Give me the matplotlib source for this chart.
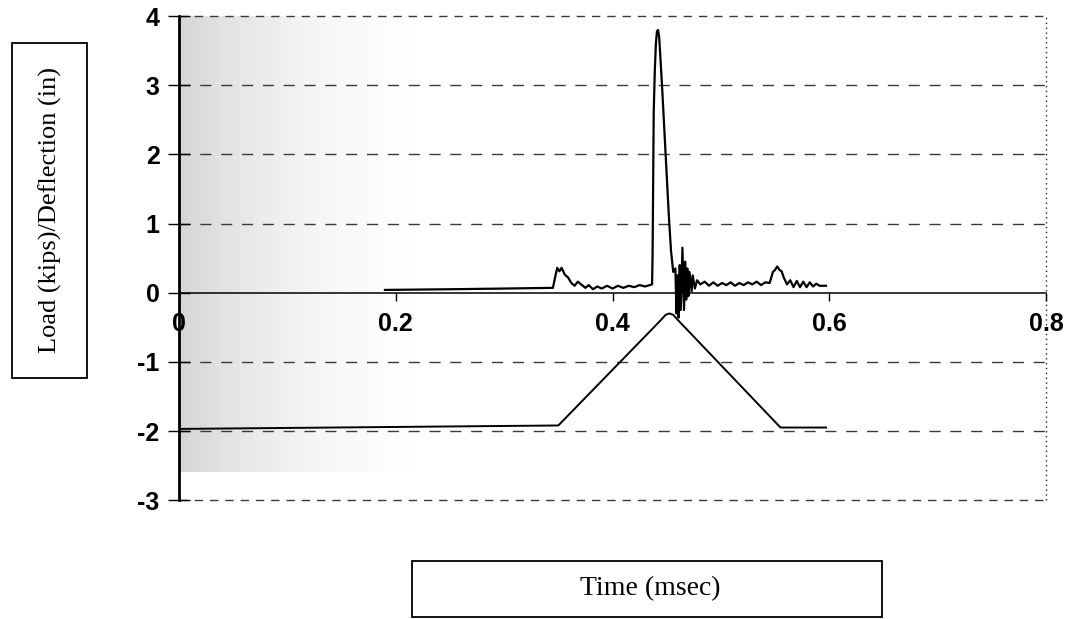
import numpy as np
import matplotlib
matplotlib.use("Agg")
import matplotlib.pyplot as plt
from matplotlib.patches import Rectangle

plt.rcParams["axes.unicode_minus"] = False

# data
load_t = [0.190, 0.250, 0.300, 0.345, 0.347, 0.349, 0.351, 0.353, 0.356, 0.359,
          0.362, 0.365, 0.368, 0.371, 0.375, 0.378, 0.382, 0.386, 0.390, 0.395,
          0.400, 0.405, 0.410, 0.415, 0.420, 0.425, 0.430, 0.4365, 0.437, 0.4375,
          0.438, 0.439, 0.440, 0.441, 0.442, 0.443, 0.444, 0.446, 0.448, 0.450,
          0.452, 0.454, 0.456, 0.458, 0.459, 0.460, 0.461, 0.462, 0.463, 0.4645,
          0.466, 0.467, 0.468, 0.469, 0.470, 0.471, 0.473, 0.474, 0.476, 0.478,
          0.481, 0.485, 0.489, 0.493, 0.497, 0.501, 0.505, 0.509, 0.513, 0.517,
          0.521, 0.525, 0.529, 0.533, 0.537, 0.541, 0.545, 0.548, 0.550, 0.552,
          0.554, 0.556, 0.558, 0.561, 0.564, 0.567, 0.570, 0.573, 0.576, 0.579,
          0.582, 0.585, 0.588, 0.591, 0.594, 0.597]
load_v = [0.04, 0.05, 0.06, 0.07, 0.22, 0.36, 0.31, 0.36, 0.26, 0.22,
          0.14, 0.10, 0.16, 0.12, 0.07, 0.11, 0.05, 0.09, 0.06, 0.10,
          0.06, 0.10, 0.07, 0.10, 0.08, 0.11, 0.09, 0.12, 0.6, 1.6,
          2.6, 3.2, 3.6, 3.78, 3.8, 3.7, 3.45, 2.9, 2.3, 1.7,
          1.1, 0.6, 0.3, 0.35, -0.30, 0.25, -0.36, 0.40, -0.25, 0.65,
          -0.25, 0.45, -0.10, 0.35, -0.05, 0.30, 0.02, 0.25, 0.06, 0.18,
          0.12, 0.16, 0.10, 0.15, 0.10, 0.14, 0.11, 0.15, 0.10, 0.14,
          0.11, 0.15, 0.12, 0.16, 0.11, 0.15, 0.14, 0.30, 0.33, 0.38,
          0.33, 0.31, 0.22, 0.12, 0.18, 0.08, 0.17, 0.08, 0.16, 0.08,
          0.15, 0.09, 0.13, 0.10, 0.10, 0.10]

defl_t = [0.0, 0.350, 0.445, 0.449, 0.4525, 0.456, 0.460, 0.555, 0.597]
defl_v = [-1.97, -1.92, -0.39, -0.32, -0.30, -0.32, -0.39, -1.95, -1.95]

xticks = [0, 0.2, 0.4, 0.6, 0.8]
xtick_labels = ["0", "0.2", "0.4", "0.6", "0.8"]
yticks = [-3, -2, -1, 0, 1, 2, 3, 4]

fig = plt.figure(figsize=(10.7, 6.19), dpi=100)
ax = fig.add_axes([0.1673, 0.192, 0.8103, 0.782])
ax.set_xlim(0, 0.8)
ax.set_ylim(-3, 4)

# grey speckle from the scan, shown as a soft fade on the left
fade = np.linspace(1, 0, 200)[None, :] ** 1.3 * np.ones((50, 1))
ax.imshow(fade, cmap="Greys", vmin=0, vmax=2.6, alpha=0.6, aspect="auto",
          extent=[0, 0.22, -2.6, 4], zorder=0, interpolation="bilinear")

# dashed grid and frame
for y in [-2, -1, 1, 2, 3]:
    ax.axhline(y, color="#3a3a3a", lw=1.0, ls=(0, (8, 7)), zorder=1)
ax.axhline(4, color="#3a3a3a", lw=1.0, ls=(0, (6, 5)), zorder=1, clip_on=False)
ax.axhline(-3, color="#3a3a3a", lw=1.0, ls=(0, (6, 5)), zorder=1, clip_on=False)
ax.axvline(0.8, color="#222222", lw=1.0, ls=(0, (1, 2.5)), zorder=1, clip_on=False)

ax.plot(defl_t, defl_v, color="black", lw=1.4, zorder=3)
ax.plot(load_t, load_v, color="black", lw=1.6, zorder=3)

for s in ["top", "right"]:
    ax.spines[s].set_visible(False)
ax.spines["left"].set_linewidth(2.0)
ax.spines["bottom"].set_position(("data", 0))
ax.spines["bottom"].set_linewidth(1.1)

ax.set_xticks(xticks)
ax.set_xticklabels(xtick_labels)
ax.set_yticks(yticks)
ax.tick_params(axis="x", direction="out", length=6, width=1, pad=8,
               labelsize=18)
ax.tick_params(axis="y", direction="inout", length=16, width=1, pad=6,
               labelsize=18)
for lab in ax.get_xticklabels() + ax.get_yticklabels():
    lab.set_fontfamily("Liberation Sans")
    lab.set_fontweight("bold")

# boxed axis titles
fig.patches.append(Rectangle((12 / 1070, 1 - 378 / 619), 75 / 1070, 335 / 619,
                             transform=fig.transFigure, fill=False,
                             edgecolor="black", lw=1.3))
fig.text(50 / 1070, 1 - 210 / 619, "Load (kips)/Deflection (in)",
         rotation=90, ha="center", va="center", fontsize=19,
         family="Liberation Serif")

fig.patches.append(Rectangle((412 / 1070, 1 - 617 / 619), 470 / 1070, 56 / 619,
                             transform=fig.transFigure, fill=False,
                             edgecolor="black", lw=1.3))
fig.text(650 / 1070, 1 - 589 / 619, "Time (msec)", ha="center", va="center",
         fontsize=20, family="Liberation Serif")

fig.savefig("out.png", dpi=100)
